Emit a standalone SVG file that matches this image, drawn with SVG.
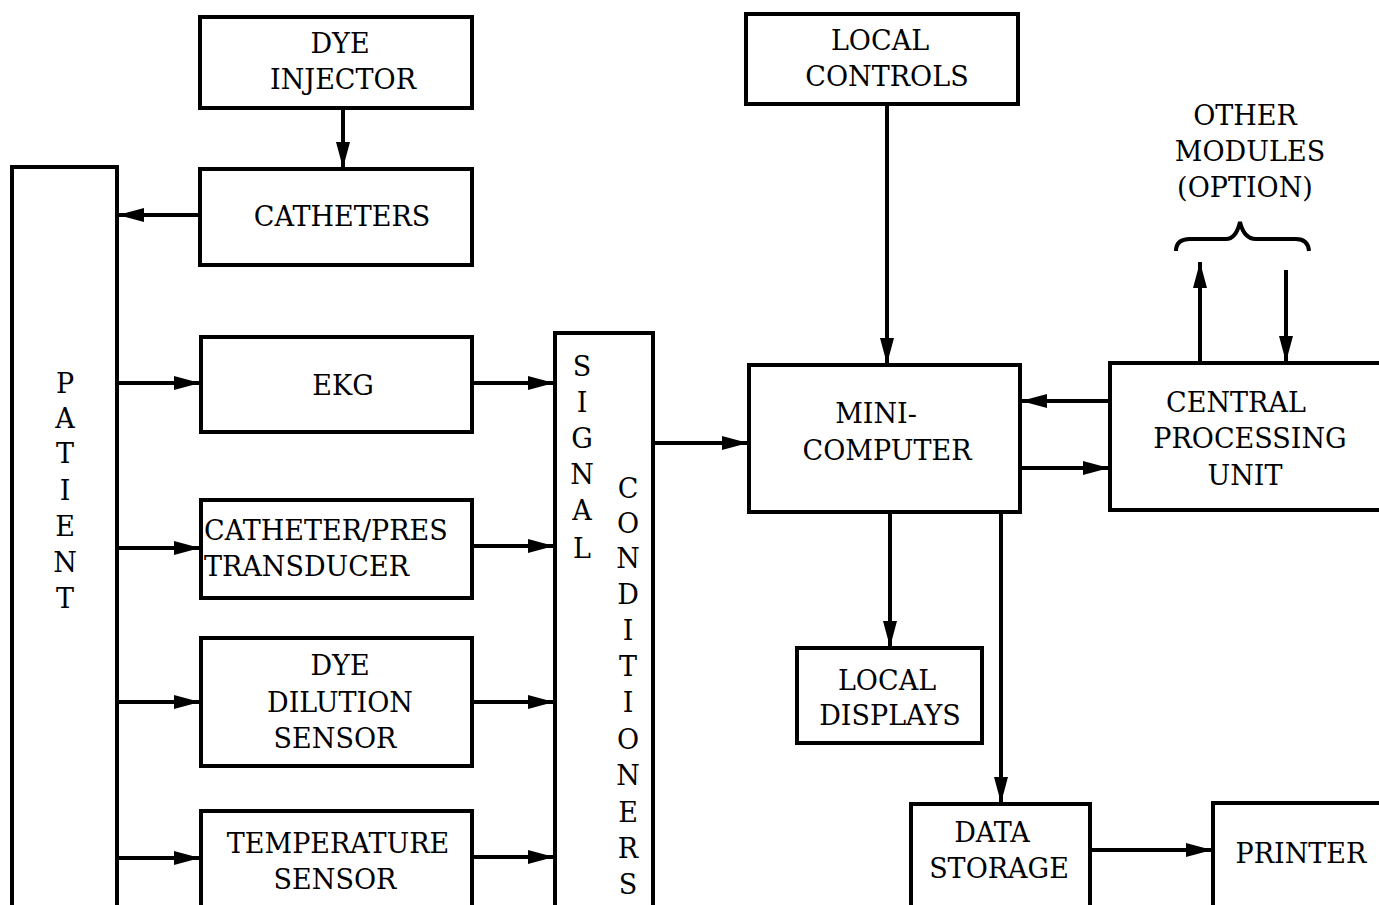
<svg xmlns="http://www.w3.org/2000/svg" width="1379" height="905" viewBox="0 0 1379 905">
<defs>
<style>
.box{fill:#fff;stroke:#000;stroke-width:4}
.ln{fill:none;stroke:#000;stroke-width:4}
text{font-family:"DejaVu Serif","Liberation Serif",serif;font-size:27px;fill:#000;text-anchor:middle}
.l{text-anchor:start}
</style>
<marker id="ah" markerUnits="userSpaceOnUse" markerWidth="28" markerHeight="18" refX="26" refY="9" orient="auto">
<path d="M0,2 L26,9 L0,16 Z" fill="#000"/>
</marker>
</defs>
<rect width="1379" height="905" fill="#fff"/>

<g id="connectors">
<line class="ln" x1="343" y1="108" x2="343" y2="168" marker-end="url(#ah)"/>
<line class="ln" x1="200" y1="215" x2="118" y2="215" marker-end="url(#ah)"/>
<line class="ln" x1="117" y1="383" x2="200" y2="383" marker-end="url(#ah)"/>
<line class="ln" x1="472" y1="383" x2="554" y2="383" marker-end="url(#ah)"/>
<line class="ln" x1="117" y1="548" x2="200" y2="548" marker-end="url(#ah)"/>
<line class="ln" x1="472" y1="546" x2="554" y2="546" marker-end="url(#ah)"/>
<line class="ln" x1="117" y1="702" x2="200" y2="702" marker-end="url(#ah)"/>
<line class="ln" x1="472" y1="702" x2="554" y2="702" marker-end="url(#ah)"/>
<line class="ln" x1="117" y1="858" x2="200" y2="858" marker-end="url(#ah)"/>
<line class="ln" x1="472" y1="857" x2="554" y2="857" marker-end="url(#ah)"/>
<line class="ln" x1="653" y1="443" x2="748" y2="443" marker-end="url(#ah)"/>
<line class="ln" x1="887" y1="104" x2="887" y2="364" marker-end="url(#ah)"/>
<line class="ln" x1="1110" y1="401" x2="1021" y2="401" marker-end="url(#ah)"/>
<line class="ln" x1="1020" y1="468" x2="1109" y2="468" marker-end="url(#ah)"/>
<line class="ln" x1="890" y1="512" x2="890" y2="647" marker-end="url(#ah)"/>
<line class="ln" x1="1001" y1="512" x2="1001" y2="803" marker-end="url(#ah)"/>
<line class="ln" x1="1090" y1="850" x2="1212" y2="850" marker-end="url(#ah)"/>
<line class="ln" x1="1200" y1="363" x2="1200" y2="262" marker-end="url(#ah)"/>
<line class="ln" x1="1286" y1="270" x2="1286" y2="362" marker-end="url(#ah)"/>
<path class="ln" d="M1176,251 Q1176,239 1190,239 L1226,239 Q1236,239 1240,222 Q1244,239 1256,239 L1296,239 Q1308,239 1309,251"/>
</g>

<g id="dye-injector">
<rect class="box" x="200" y="17" width="272" height="91"/>
<text x="340" y="53">DYE</text>
<text x="343" y="89">INJECTOR</text>
</g>
<g id="catheters">
<rect class="box" x="200" y="169" width="272" height="96"/>
<text x="342" y="226">CATHETERS</text>
</g>
<g id="patient">
<rect class="box" x="12" y="167" width="105" height="745"/>
<text x="65" y="393">P</text>
<text x="65" y="428">A</text>
<text x="65" y="463">T</text>
<text x="65" y="500">I</text>
<text x="65" y="536">E</text>
<text x="65" y="572">N</text>
<text x="65" y="608">T</text>
</g>
<g id="ekg">
<rect class="box" x="201" y="337" width="271" height="95"/>
<text x="343" y="395">EKG</text>
</g>
<g id="catheter-pres-transducer">
<rect class="box" x="201" y="500" width="271" height="98"/>
<text class="l" x="204" y="540">CATHETER/PRES</text>
<text class="l" x="204" y="576">TRANSDUCER</text>
</g>
<g id="dye-dilution-sensor">
<rect class="box" x="201" y="638" width="271" height="128"/>
<text x="340" y="675">DYE</text>
<text x="340" y="712">DILUTION</text>
<text x="335" y="748">SENSOR</text>
</g>
<g id="temperature-sensor">
<rect class="box" x="201" y="811" width="271" height="101"/>
<text x="338" y="853">TEMPERATURE</text>
<text x="335" y="889">SENSOR</text>
</g>
<g id="signal-conditioners">
<rect class="box" x="555" y="333" width="98" height="579"/>
<text x="582" y="376">S</text>
<text x="582" y="412">I</text>
<text x="582" y="448">G</text>
<text x="582" y="484">N</text>
<text x="582" y="520">A</text>
<text x="582" y="558">L</text>
<text x="628" y="498">C</text>
<text x="628" y="533">O</text>
<text x="628" y="568">N</text>
<text x="628" y="604">D</text>
<text x="628" y="640">I</text>
<text x="628" y="676">T</text>
<text x="628" y="712">I</text>
<text x="628" y="749">O</text>
<text x="628" y="785">N</text>
<text x="628" y="822">E</text>
<text x="628" y="858">R</text>
<text x="628" y="894">S</text>
</g>
<g id="local-controls">
<rect class="box" x="746" y="14" width="272" height="90"/>
<text x="880" y="50">LOCAL</text>
<text x="887" y="86">CONTROLS</text>
</g>
<g id="mini-computer">
<rect class="box" x="749" y="365" width="271" height="147"/>
<text x="876" y="423">MINI-</text>
<text x="887" y="460">COMPUTER</text>
</g>
<g id="central-processing-unit">
<rect class="box" x="1110" y="363" width="279" height="147"/>
<text x="1236" y="412">CENTRAL</text>
<text x="1250" y="448">PROCESSING</text>
<text x="1245" y="485">UNIT</text>
</g>
<g id="other-modules">
<text x="1245" y="125">OTHER</text>
<text x="1250" y="161">MODULES</text>
<text x="1245" y="197">(OPTION)</text>
</g>
<g id="local-displays">
<rect class="box" x="797" y="648" width="185" height="95"/>
<text x="887" y="690">LOCAL</text>
<text x="890" y="725">DISPLAYS</text>
</g>
<g id="data-storage">
<rect class="box" x="911" y="804" width="179" height="108"/>
<text x="992" y="842">DATA</text>
<text x="999" y="878">STORAGE</text>
</g>
<g id="printer">
<rect class="box" x="1213" y="803" width="176" height="109"/>
<text x="1301" y="863">PRINTER</text>
</g>
</svg>
